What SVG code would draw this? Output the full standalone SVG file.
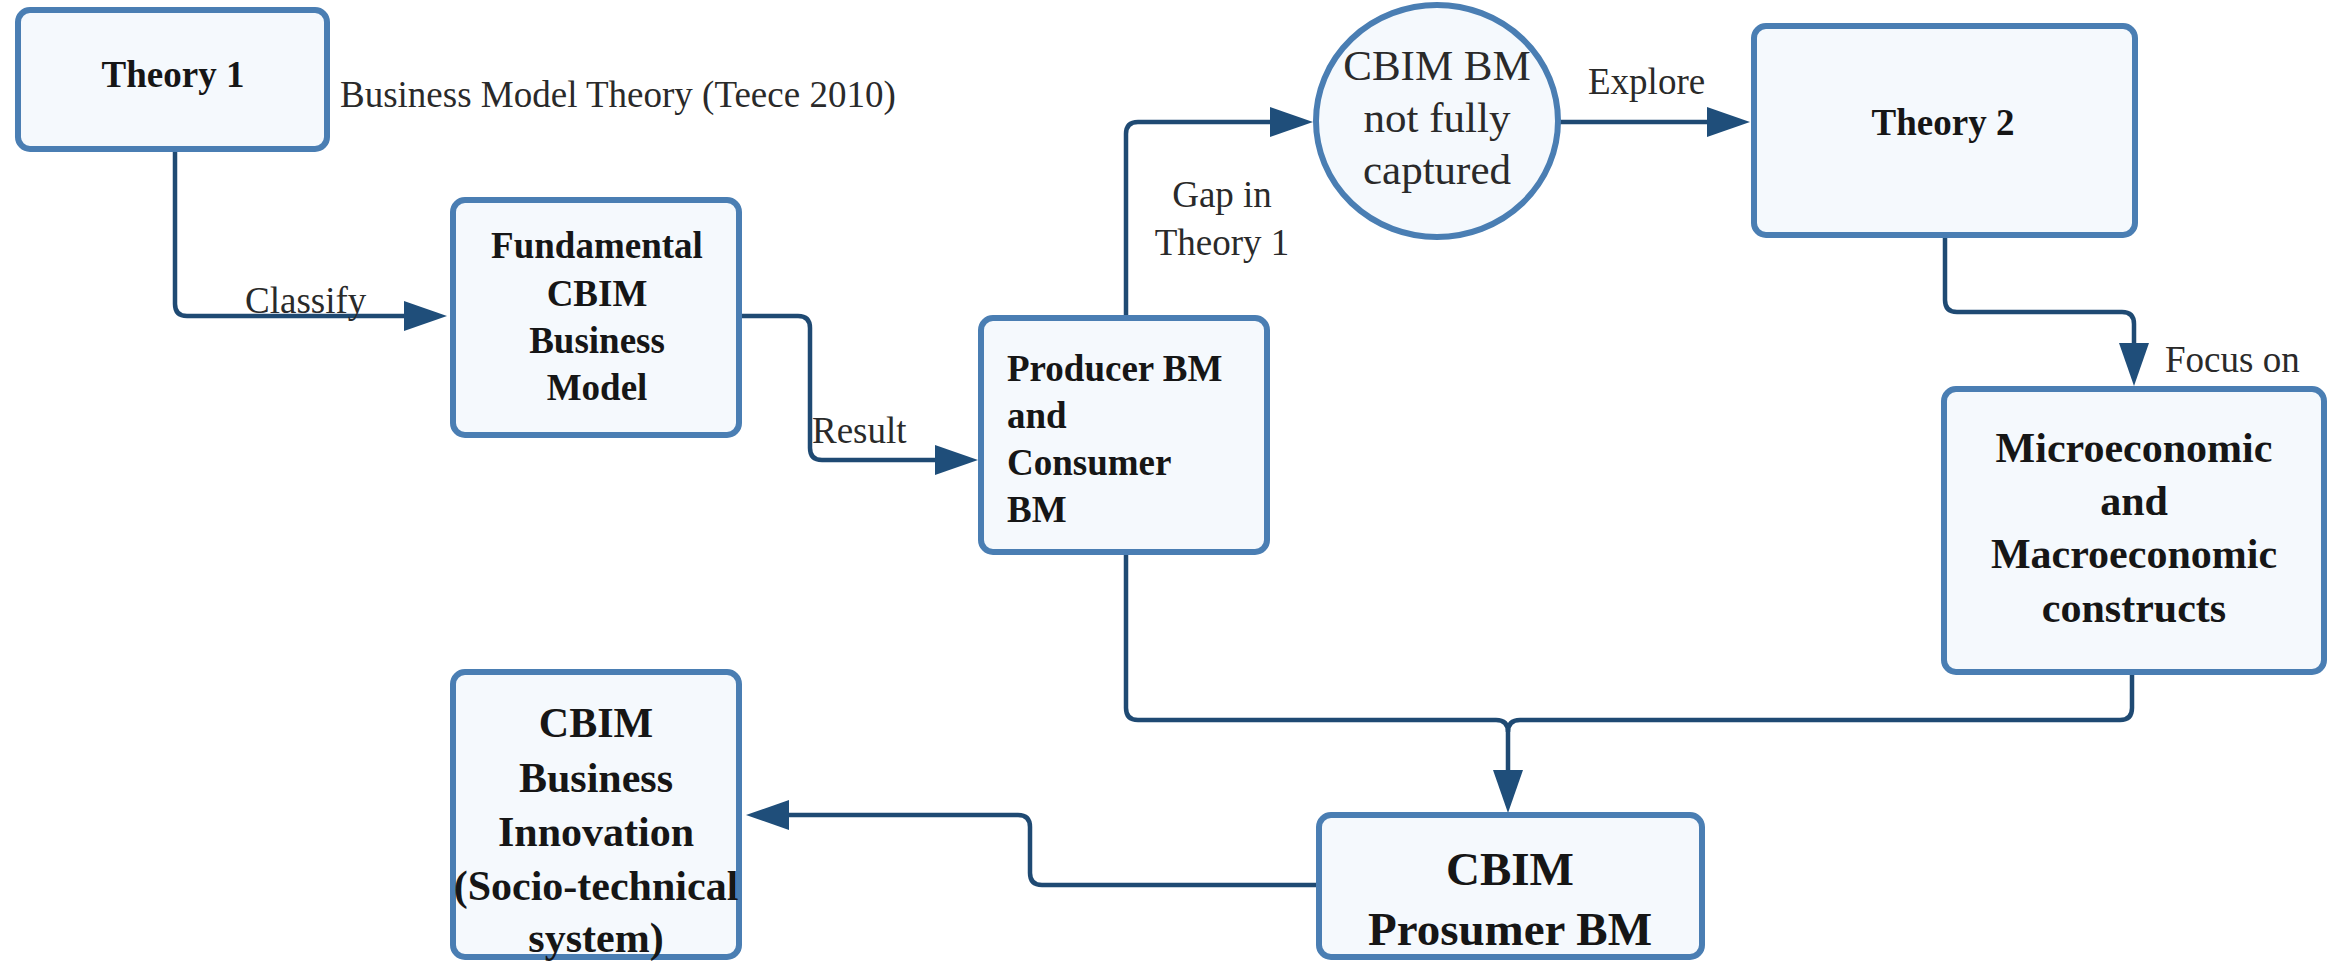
<svg xmlns="http://www.w3.org/2000/svg" width="2330" height="965" viewBox="0 0 2330 965">
<style>
.box{fill:#f5f9fd;stroke:#4a7eb3;stroke-width:6}
.con{fill:none;stroke:#1f4a73;stroke-width:4.5}
.b{font-family:"Liberation Serif",serif;font-weight:bold;fill:#161616}
.r{font-family:"Liberation Serif",serif;fill:#2a2a2a;font-size:37px}
.c{text-anchor:middle}
</style>
<defs>
<marker id="ah" markerUnits="userSpaceOnUse" markerWidth="44" markerHeight="32" refX="0" refY="15" orient="auto" viewBox="0 0 44 30">
<path d="M0,0 L43,15 L0,30 Z" fill="#1f4e7a"/>
</marker>
</defs>
<rect width="2330" height="965" fill="#ffffff"/>
<g id="connectors">
<path class="con" marker-end="url(#ah)" d="M175 150 V304 Q175 316 187 316 H404"/>
<path class="con" marker-end="url(#ah)" d="M740 316 H798 Q810 316 810 328 V448 Q810 460 822 460 H935"/>
<path class="con" marker-end="url(#ah)" d="M1126 318 V134 Q1126 122 1138 122 H1270"/>
<path class="con" marker-end="url(#ah)" d="M1558 122 H1707"/>
<path class="con" marker-end="url(#ah)" d="M1945 235 V300 Q1945 312 1957 312 H2122 Q2134 312 2134 324 V343"/>
<path class="con" d="M1126 552 V708 Q1126 720 1138 720 H1496 Q1508 720 1508 732"/>
<path class="con" marker-end="url(#ah)" d="M2132 672 V708 Q2132 720 2120 720 H1520 Q1508 720 1508 732 V770"/>
<path class="con" marker-end="url(#ah)" d="M1319 885 H1042 Q1030 885 1030 873 V827 Q1030 815 1018 815 H789"/>
</g>
<g id="labels">
<text class="r" x="340" y="107">Business Model Theory (Teece 2010)</text>
<text class="r" x="245" y="313">Classify</text>
<text class="r" x="812" y="443">Result</text>
<text class="r c" x="1222" y="207">Gap in</text>
<text class="r c" x="1222" y="255">Theory 1</text>
<text class="r" x="1588" y="94">Explore</text>
<text class="r" x="2165" y="372">Focus on</text>
</g>
<g id="theory1">
<rect class="box" x="18" y="10" width="309" height="139" rx="12"/>
<text class="b c" x="173" y="87" font-size="37">Theory 1</text>
</g>
<g id="fundamental">
<rect class="box" x="453" y="200" width="286" height="235" rx="12"/>
<text class="b c" font-size="37"><tspan x="597" y="258">Fundamental</tspan><tspan x="597" y="306">CBIM</tspan><tspan x="597" y="353">Business</tspan><tspan x="597" y="400">Model</tspan></text>
</g>
<g id="producer">
<rect class="box" x="981" y="318" width="286" height="234" rx="12"/>
<text class="b" font-size="37"><tspan x="1007" y="381">Producer BM</tspan><tspan x="1007" y="428">and</tspan><tspan x="1007" y="475">Consumer</tspan><tspan x="1007" y="522">BM</tspan></text>
</g>
<g id="gap">
<ellipse class="box" cx="1437" cy="121" rx="121" ry="116"/>
<text class="r c" font-size="43" style="font-size:43px"><tspan x="1437" y="80">CBIM BM</tspan><tspan x="1437" y="132">not fully</tspan><tspan x="1437" y="184">captured</tspan></text>
</g>
<g id="theory2">
<rect class="box" x="1754" y="26" width="381" height="209" rx="12"/>
<text class="b c" x="1943" y="135" font-size="37">Theory 2</text>
</g>
<g id="constructs">
<rect class="box" x="1944" y="389" width="380" height="283" rx="12"/>
<text class="b c" font-size="42"><tspan x="2134" y="462">Microeconomic</tspan><tspan x="2134" y="515">and</tspan><tspan x="2134" y="568">Macroeconomic</tspan><tspan x="2134" y="622">constructs</tspan></text>
</g>
<g id="prosumer">
<rect class="box" x="1319" y="815" width="383" height="142" rx="12"/>
<text class="b c" font-size="47"><tspan x="1510" y="885">CBIM</tspan><tspan x="1510" y="945">Prosumer BM</tspan></text>
</g>
<g id="innovation">
<rect class="box" x="453" y="672" width="286" height="285" rx="12"/>
<text class="b c" font-size="42"><tspan x="596" y="737">CBIM</tspan><tspan x="596" y="792">Business</tspan><tspan x="596" y="846">Innovation</tspan><tspan x="596" y="900">(Socio-technical</tspan><tspan x="596" y="952">system)</tspan></text>
</g>
</svg>
